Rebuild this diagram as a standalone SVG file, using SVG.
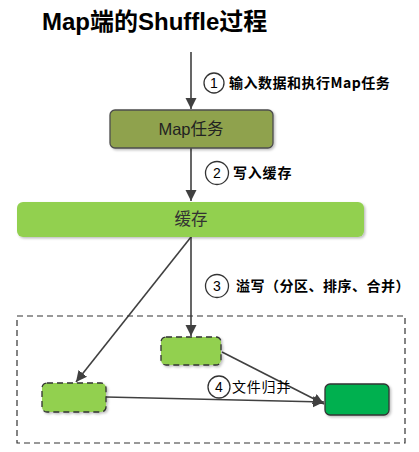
<svg xmlns="http://www.w3.org/2000/svg" width="419" height="452" viewBox="0 0 419 452">
<style>
.title{font-family:"Liberation Sans","Noto Sans CJK SC",sans-serif;font-weight:bold;font-size:24px;fill:#000}
.lbl{font-family:"Noto Sans CJK SC","Liberation Sans",sans-serif;font-size:14px;font-weight:bold;fill:#000;letter-spacing:0.5px}
.num{font-family:"Liberation Sans",sans-serif;font-size:14px;fill:#000;text-anchor:middle}
.nt{font-family:"Liberation Sans","Noto Sans CJK SC",sans-serif;font-size:16.5px;fill:#222;text-anchor:middle}
.circ{fill:#fff;stroke:#333;stroke-width:1.3}
.conn{stroke:#404040;stroke-width:1.6;fill:none}
</style>
<defs>
<marker id="ah" markerWidth="12" markerHeight="12" refX="11" refY="5.5" orient="auto" markerUnits="userSpaceOnUse">
<path d="M0,0 L11,5.5 L0,11 Z" fill="#404040"/>
</marker>
<filter id="sh" x="-10%" y="-10%" width="130%" height="140%">
<feDropShadow dx="1.5" dy="1.5" stdDeviation="1" flood-color="#000" flood-opacity="0.25"/>
</filter>
</defs>
<text class="title" x="42" y="30">Map端的Shuffle过程</text>

<g id="connectors">
<line class="conn" x1="191" y1="52" x2="191" y2="109" marker-end="url(#ah)"/>
<line class="conn" x1="191" y1="148" x2="191" y2="201" marker-end="url(#ah)"/>
<line class="conn" x1="191" y1="237" x2="191" y2="336" marker-end="url(#ah)"/>
<line class="conn" x1="191" y1="237" x2="76" y2="382" marker-end="url(#ah)"/>
<line class="conn" x1="222" y1="352" x2="324" y2="404" marker-end="url(#ah)"/>
<line class="conn" x1="106" y1="397" x2="324" y2="402" marker-end="url(#ah)"/>
</g>

<g id="label1">
<circle class="circ" cx="214" cy="83" r="10"/>
<text class="num" x="214" y="88">1</text>
<text class="lbl" x="229" y="88">输入数据和执行Map任务</text>
</g>
<g id="label2">
<circle class="circ" cx="217" cy="173" r="11.5"/>
<text class="num" x="217" y="178">2</text>
<text class="lbl" x="233" y="178" style="letter-spacing:0.8px">写入缓存</text>
</g>
<g id="label3">
<circle class="circ" cx="217" cy="286" r="11.5"/>
<text class="num" x="217" y="291">3</text>
<text class="lbl" x="236" y="291">溢写（分区、排序、合并）</text>
</g>
<g id="label4">
<circle class="circ" cx="219" cy="387" r="11"/>
<text class="num" x="219" y="392">4</text>
<text class="lbl" x="232" y="392" style="font-weight:normal;letter-spacing:0.8px">文件归并</text>
</g>

<g id="maptask">
<rect x="110" y="110" width="163" height="38" rx="5" fill="#8fa24e" stroke="#4d4d4d" stroke-width="1.3" filter="url(#sh)"/>
<text class="nt" x="191" y="135">Map任务</text>
</g>
<g id="buffer">
<rect x="17" y="202" width="347" height="35" rx="6" fill="#92d050" filter="url(#sh)"/>
<text class="nt" x="191" y="225" style="fill:#333">缓存</text>
</g>
<g id="spillarea">
<rect x="17" y="316" width="388" height="127" fill="none" stroke="#333" stroke-width="1.2" stroke-dasharray="6,4"/>
</g>
<g id="spill1">
<rect x="161" y="337" width="60" height="28" rx="5" fill="#92d050" stroke="#333" stroke-width="1.3" stroke-dasharray="6,4" filter="url(#sh)"/>
</g>
<g id="spill2">
<rect x="42" y="383" width="64" height="29" rx="5" fill="#92d050" stroke="#333" stroke-width="1.3" stroke-dasharray="6,4" filter="url(#sh)"/>
</g>
<g id="merged">
<rect x="325" y="384" width="64" height="31" rx="5" fill="#00b050" stroke="#333" stroke-width="1.3" filter="url(#sh)"/>
</g>
</svg>
